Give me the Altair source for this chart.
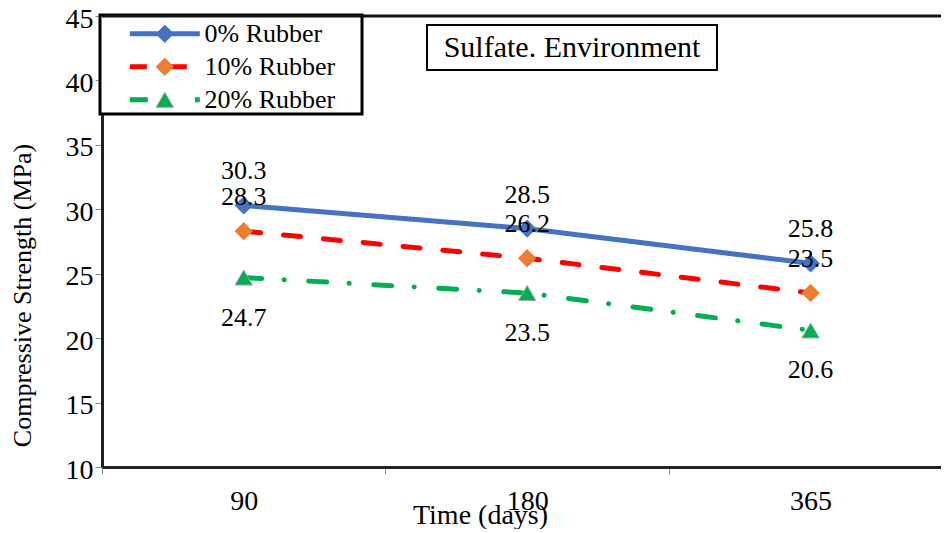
import altair as alt
import pandas as pd

# ---- data ----
days = ["90", "180", "365"]
series = ["0% Rubber", "10% Rubber", "20% Rubber"]
rubber0 = [30.3, 28.5, 25.8]
rubber10 = [28.3, 26.2, 23.5]
rubber20 = [24.7, 23.5, 20.6]
y_ticks = [10, 15, 20, 25, 30, 35, 40, 45]
title_text = "Sulfate. Environment"

# ---- styles ----
line_colors = ["#4472C4", "#FF0000", "#00B050"]
marker_colors = ["#4472C4", "#ED7D31", "#00B050"]
marker_strokes = ["#4472C4", "#ED7D31", "#A5A5A5"]
dashes = [[1, 0], [17, 23], [18, 22.5, 0.1, 24.5]]
shapes = ["diamond", "diamond", "triangle-up"]
FONT = "Liberation Serif"

W, H = 839, 451
XMAX = 2.96

rows = []
for s, vals in zip(series, [rubber0, rubber10, rubber20]):
    for i, (d, v) in enumerate(zip(days, vals)):
        rows.append({"series": s, "marker": s, "day": d, "pos": i + 0.5,
                     "value": v, "label": f"{v:.1f}"})
df = pd.DataFrame(rows)
ann = pd.DataFrame({"title": [title_text]})

label_expr = "[" + ",".join(f"'{d}'" for d in days) + "][datum.value]"

x_enc = alt.X("pos:Q",
              scale=alt.Scale(domain=[0, XMAX], nice=False, zero=False),
              axis=alt.Axis(values=[0, 1, 2], labelExpr=label_expr,
                            labelOffset=0.5 * W / XMAX, labelFlush=False,
                            labelFont=FONT, labelFontSize=28, labelColor="black",
                            labelPadding=13, tickSize=7, tickColor="#8c8c8c",
                            domainColor="#222", domainWidth=3, grid=False,
                            title="Time (days)", titleFont=FONT, titleFontSize=28,
                            titleFontWeight="normal", titleColor="black",
                            titleX=378, titleY=56, titleAlign="center",
                            titleBaseline="alphabetic"))
y_enc = alt.Y("value:Q",
              scale=alt.Scale(domain=[10, 45], nice=False, zero=False),
              axis=alt.Axis(values=y_ticks, labelFont=FONT, labelFontSize=28,
                            labelColor="black", labelPadding=2, labelOffset=3,
                            tickSize=7, tickColor="#8c8c8c", domainColor="#222",
                            domainWidth=3, grid=False,
                            title="Compressive Strength (MPa)",
                            titleFont=FONT, titleFontSize=26, titleFontWeight="normal",
                            titleColor="black", titleX=-80, titleY=279,
                            titleAlign="center", titleBaseline="middle"))

LX, LY = 0, 4.8
SO, LO = 49.8, 26.7
line_legend = alt.Legend(title=None, orient="none", legendX=LX, legendY=LY,
                         symbolType="M-5.255,0H5.255", symbolSize=177.4,
                         symbolStrokeWidth=5, labelFont=FONT, labelFontSize=26,
                         labelColor="black", padding=0, rowPadding=7,
                         symbolOffset=SO, labelOffset=LO)
marker_legend = alt.Legend(title=None, orient="none", legendX=LX, legendY=LY,
                           symbolSize=300, symbolStrokeWidth=1, labelFont=FONT,
                           labelFontSize=26, labelColor="rgba(0,0,0,0)", padding=0,
                           rowPadding=7, symbolOffset=SO, labelOffset=LO)

base = alt.Chart(df)

legend_box = alt.Chart(ann).mark_rect(fill="white", stroke="black", strokeWidth=3).encode(
    x=alt.value(-2), x2=alt.value(260), y=alt.value(-1), y2=alt.value(98))

title_box = alt.Chart(ann).mark_rect(fill="white", stroke="black", strokeWidth=2).encode(
    x=alt.value(325), x2=alt.value(615), y=alt.value(9), y2=alt.value(54))
title_txt = alt.Chart(ann).mark_text(font=FONT, fontSize=30, color="black",
                                     baseline="middle", align="center").encode(
    x=alt.value(470), y=alt.value(32), text="title:N")

top_border = alt.Chart(ann).mark_rule(color="#111", strokeWidth=3).encode(
    x=alt.value(0), x2=alt.value(W), y=alt.value(0))

lines = base.mark_line(strokeWidth=5, strokeCap="round").encode(
    x=x_enc, y=y_enc,
    color=alt.Color("series:N", scale=alt.Scale(domain=series, range=line_colors),
                    legend=line_legend),
    strokeDash=alt.StrokeDash("series:N", scale=alt.Scale(domain=series, range=dashes),
                              legend=line_legend),
    detail="series:N")

# marker scales use the data domain of "marker" so their legend stays separate
points = base.mark_point(filled=True, opacity=1, size=300, strokeWidth=1).encode(
    x="pos:Q", y="value:Q",
    fill=alt.Fill("marker:N", scale=alt.Scale(range=marker_colors),
                  legend=marker_legend),
    shape=alt.Shape("marker:N", scale=alt.Scale(range=shapes),
                    legend=marker_legend),
    stroke=alt.Stroke("marker:N", scale=alt.Scale(range=marker_strokes),
                      legend=marker_legend))

def labels(s, dy):
    return base.transform_filter(alt.datum.series == s).mark_text(
        font=FONT, fontSize=26, color="black", baseline="middle", align="center",
        dy=dy).encode(x="pos:Q", y="value:Q", text="label:N")

chart = alt.layer(
    legend_box, title_box, title_txt, top_border, lines, points,
    labels(series[0], -34), labels(series[1], -34), labels(series[2], 40)
).properties(
    width=W, height=H,
    autosize=alt.AutoSizeParams(type="none"),
    padding={"left": 94, "top": 8, "right": 0, "bottom": 62},
).configure_view(stroke=None).configure(background="white")

chart.save("out.html", embed_options={"renderer": "svg", "actions": False})
